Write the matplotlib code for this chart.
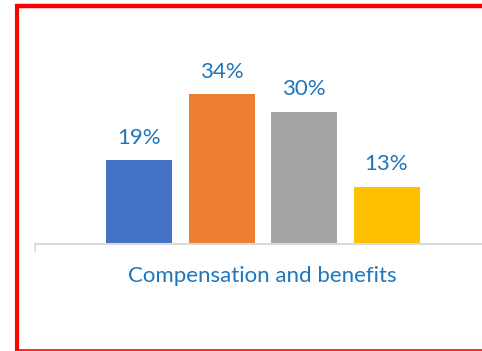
import matplotlib
matplotlib.use("Agg")
from matplotlib import pyplot as plt
from matplotlib.lines import Line2D

# survey share for the single category, one bar per answer group
category = "Compensation and benefits"
shares = [19, 34, 30, 13]
bar_colors = ["#4472C4", "#ED7D31", "#A5A5A5", "#FFC000"]
label_color = "#1F76BC"

W, H = 482, 351
fig = plt.figure(figsize=(W / 100, H / 100), dpi=100)
plt.rcParams['font.family'] = ['Lato', 'DejaVu Sans']

# plot area in pixels: baseline at y=244, axis from x=35 to x=481
px_per_pct = 4.4
left, right, base, top = 35, 481, 244, 20
ax = fig.add_axes([left / W, (H - base) / H, (right - left) / W, (base - top) / H])
ax.set_ylim(0, (base - top) / px_per_pct)
slot = 82.5
first = 139
ax.set_xlim(-(first - left) / slot, (right - first) / slot)

xs = list(range(len(shares)))
bars = ax.bar(xs, shares, width=0.8, color=bar_colors)
for x, v in zip(xs, shares):
    ax.annotate(f"{v}%", (x, v), xytext=(0, 12.0), textcoords="offset points",
                ha="center", va="baseline", fontsize=16, color=label_color)

for s in ["top", "right", "left"]:
    ax.spines[s].set_visible(False)
ax.spines["bottom"].set_color("#D9D9D9")
ax.spines["bottom"].set_linewidth(1.5)
ax.set_xticks([])
ax.set_yticks([])

# small tick at the left end of the axis
fig.add_artist(Line2D([left / W, left / W], [(H - base) / H, (H - 251) / H],
                      color="#D9D9D9", lw=1.2))

fig.text(262.5 / W, (H - 281.5) / H, category, ha="center", va="baseline",
         fontsize=16, color=label_color)

# red frame on left, top and bottom
red = "#FF0000"
fig.add_artist(Line2D([17 / W, 17 / W], [0, (H - 4) / H], color=red, lw=3.0,
                      solid_capstyle="butt"))
fig.add_artist(Line2D([15 / W, 1], [(H - 6.3) / H, (H - 6.3) / H], color=red, lw=3.2,
                      solid_capstyle="butt"))
fig.add_artist(Line2D([15 / W, 1], [0.6 / H, 0.6 / H], color=red, lw=1.2,
                      solid_capstyle="butt"))

fig.savefig("out.png", dpi=100)
